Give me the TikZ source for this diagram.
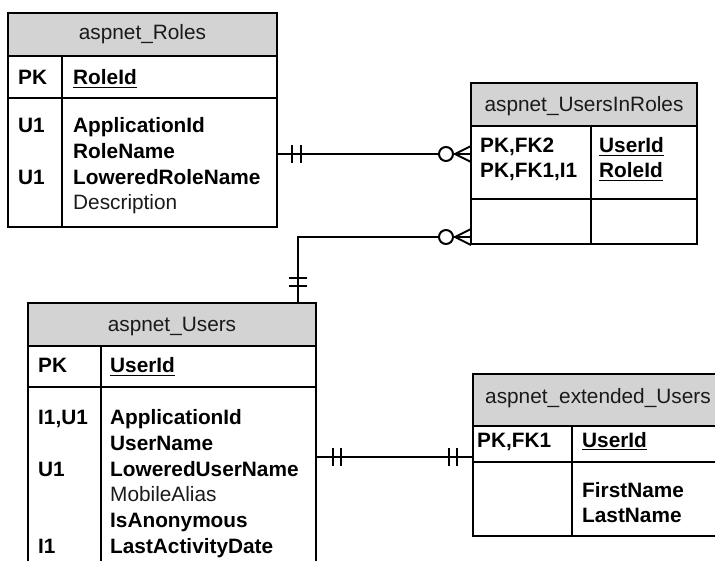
\documentclass[tikz,border=0pt]{standalone}
\usepackage{fontspec}
\setmainfont{Liberation Sans}
\definecolor{hdr}{HTML}{D3D3D3}
\definecolor{ink}{HTML}{1A1A1A}
\newcommand\myul[1]{\setbox0\hbox{#1}\rlap{\rule[-3.2pt]{\wd0}{1.6pt}}\box0}
\tikzset{
  tbox/.style={draw=black, line width=1.4pt, anchor=north west, inner sep=0pt, outer sep=0pt},
  sepline/.style={draw=black, line width=1.4pt},
  conn/.style={draw=black, line width=2pt},
  txt/.style={anchor=base west, inner sep=0pt, text=ink, font=\fontsize{20.8}{25}\selectfont},
  btxt/.style={anchor=base west, inner sep=0pt, text=black, font=\fontsize{20.8}{25}\selectfont\bfseries},
  htxt/.style={anchor=base, inner sep=0pt, text=ink, font=\fontsize{20.8}{25}\selectfont},
}
\begin{document}
\begin{tikzpicture}[x=1pt,y=-1pt]
\useasboundingbox (0,0) rectangle (715,561);
\clip (0,0) rectangle (715,561);

% ---------- aspnet_Roles ----------
\fill[hdr] (8,13) rectangle (277,56);
\node[tbox, minimum width=269pt, minimum height=214pt] (roles) at (8,13) {};
\draw[sepline] (8,56) -- (277,56);
\draw[sepline] (8,98) -- (277,98);
\draw[sepline] (62,56) -- (62,227);
\node[htxt] (rolesH) at (142.5,40) {aspnet\_Roles};
\node[btxt] (rolesK1) at (18,85) {PK};
\node[btxt] (rolesF1) at (73,85) {\myul{RoleId}};
\node[btxt] (rolesK2) at (18,133) {U1};
\node[btxt] (rolesF2) at (73,133) {ApplicationId};
\node[btxt] (rolesF3) at (73,159) {RoleName};
\node[btxt] (rolesK3) at (18,185) {U1};
\node[btxt] (rolesF4) at (73,185) {LoweredRoleName};
\node[txt] (rolesF5) at (73,210) {Description};

% ---------- aspnet_UsersInRoles ----------
\fill[hdr] (471,83) rectangle (697,126);
\node[tbox, minimum width=226pt, minimum height=161pt] (uir) at (471,83) {};
\draw[sepline] (471,126) -- (697,126);
\draw[sepline] (471,199) -- (697,199);
\draw[sepline] (591,126) -- (591,244);
\node[htxt] (uirH) at (584,112) {aspnet\_UsersInRoles};
\node[btxt] (uirK1) at (480,153) {PK,FK2};
\node[btxt] (uirK2) at (480,178) {PK,FK1,I1};
\node[btxt] (uirF1) at (599,153) {\myul{UserId}};
\node[btxt] (uirF2) at (599,178) {\myul{RoleId}};

% ---------- aspnet_Users ----------
\fill[hdr] (28,303) rectangle (316,346);
\node[tbox, minimum width=288pt, minimum height=300pt] (users) at (28,303) {};
\draw[sepline] (28,346) -- (316,346);
\draw[sepline] (28,387) -- (316,387);
\draw[sepline] (101,346) -- (101,603);
\node[htxt] (usersH) at (172,331) {aspnet\_Users};
\node[btxt] (usersK1) at (38,373) {PK};
\node[btxt] (usersF1) at (110,373) {\myul{UserId}};
\node[btxt] (usersK2) at (38,424) {I1,U1};
\node[btxt] (usersF2) at (110,424) {ApplicationId};
\node[btxt] (usersF3) at (110,450) {UserName};
\node[btxt] (usersK3) at (38,476) {U1};
\node[btxt] (usersF4) at (110,476) {LoweredUserName};
\node[txt] (usersF5) at (110,501) {MobileAlias};
\node[btxt] (usersF6) at (110,527) {IsAnonymous};
\node[btxt] (usersK4) at (38,553) {I1};
\node[btxt] (usersF7) at (110,553) {LastActivityDate};

% ---------- aspnet_extended_Users ----------
\fill[hdr] (473,374) rectangle (718,426);
\node[tbox, minimum width=245pt, minimum height=162pt] (ext) at (473,374) {};
\draw[sepline] (473,426) -- (718,426);
\draw[sepline] (473,462) -- (718,462);
\draw[sepline] (572,426) -- (572,536);
\node[txt] (extH) at (485,403) {aspnet\_extended\_Users};
\node[btxt] (extK1) at (477,447) {PK,FK1};
\node[btxt] (extF1) at (582,447) {\myul{UserId}};
\node[btxt] (extF2) at (582,497) {FirstName};
\node[btxt] (extF3) at (582,522) {LastName};

% ---------- connector: Roles -> UsersInRoles ----------
\coordinate (rolesE) at (277,154);
\coordinate (uirW1) at (471,154);
\draw[conn] (rolesE) -- (uirW1);
\draw[conn] (292,145) -- (292,163);
\draw[conn] (301,145) -- (301,163);
\draw[conn] (455,154) -- (471,146);
\draw[conn] (455,154) -- (471,162);
\draw[conn, fill=white] (446,154) circle (7pt);

% ---------- connector: Users -> UsersInRoles ----------
\coordinate (usersN) at (298,303);
\coordinate (uirW2) at (471,237);
\draw[conn] (usersN) |- (uirW2);
\draw[conn] (289,278) -- (307,278);
\draw[conn] (289,286) -- (307,286);
\draw[conn] (455,237) -- (471,229);
\draw[conn] (455,237) -- (471,245);
\draw[conn, fill=white] (446,237) circle (7pt);

% ---------- connector: Users -> extended_Users ----------
\coordinate (usersE) at (316,457);
\coordinate (extW) at (473,457);
\draw[conn] (usersE) -- (extW);
\draw[conn] (333,448) -- (333,466);
\draw[conn] (341,448) -- (341,466);
\draw[conn] (449,448) -- (449,466);
\draw[conn] (457,448) -- (457,466);
\end{tikzpicture}
\end{document}
